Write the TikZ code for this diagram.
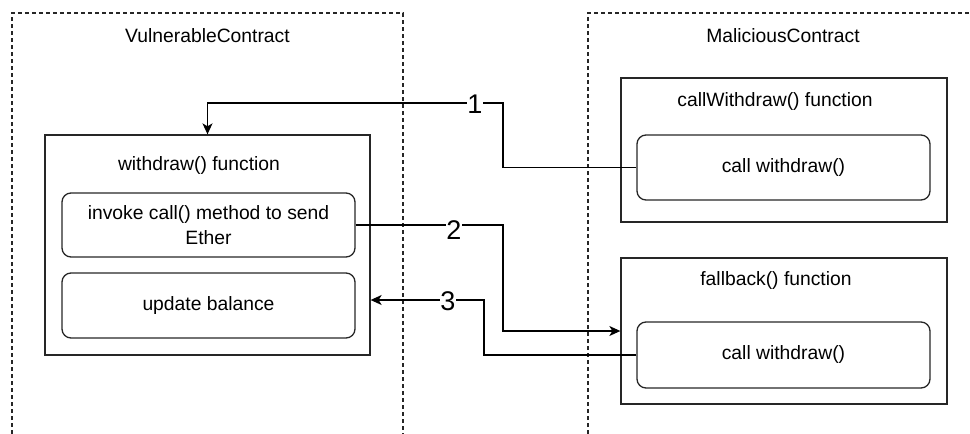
\documentclass[tikz,border=0pt]{standalone}
\usepackage{fontspec}
\setmainfont{Liberation Sans}
\usetikzlibrary{arrows.meta}
\begin{document}
\begin{tikzpicture}[x=1pt,y=-1pt,
  frame/.style={draw=black!85,line width=1.1pt,dash pattern=on 4pt off 3pt},
  funcbox/.style={draw=black!85,line width=1.3pt,minimum width=326pt,inner sep=0pt},
  stepbox/.style={draw=black!85,line width=1.3pt,rounded corners=9pt,minimum width=293pt,inner sep=0pt,align=center,font=\fontsize{19.3}{25}\selectfont},
  title/.style={font=\fontsize{19.3}{23}\selectfont},
  num/.style={fill=white,inner sep=0.5pt,font=\fontsize{27}{30}\selectfont},
  arr/.style={draw=black,line width=1.3pt,-{Stealth[length=11pt,width=10pt,inset=3pt]}},
  link/.style={draw=black,line width=1.3pt}]
\useasboundingbox (0,0) rectangle (970,434);

% contract frames (open at the page edges)
\draw[frame] (12,434) -- (12,13) -- (403,13) -- (403,434);
\draw[frame] (588,434) -- (588,13) -- (970,13);
\node[title] (vc) at (207.5,36) {VulnerableContract};
\node[title] (mc) at (783,36) {MaliciousContract};

% vulnerable contract
\node[funcbox,minimum width=325pt,minimum height=220pt] (wf) at (207.5,245) {};
\node[title] (wft) at (199,166) {withdraw() function};
\node[stepbox,minimum height=64pt] (inv) at (208.5,225) {invoke call() method to send\\Ether};
\node[stepbox,minimum height=65pt] (upd) at (208.5,305.5) {update balance};

% malicious contract
\node[funcbox,minimum height=144pt] (cwf) at (784,150) {};
\node[title] (cwft) at (775,102) {callWithdraw() function};
\node[stepbox,minimum height=65pt] (cw1) at (783.5,167.5) {call withdraw()};
\node[funcbox,minimum height=146pt] (fb) at (784,331) {};
\node[title] (fbt) at (776,281) {fallback() function};
\node[stepbox,minimum height=66pt] (cw2) at (783.5,355) {call withdraw()};

% call sequence
\coordinate (c1) at (503,103);
\coordinate (c2) at (503,331);
\coordinate (c3) at (484,300);
\draw[arr] (cw1.west) -| (c1) -| (wf.north);
\draw[arr] (inv.east) -| (c2) -- (fb.west |- c2);
\draw[arr] (cw2.west) -| (c3) -- (wf.east |- c3);
\node[num] (n1) at (475,104) {1};
\node[num] (n2) at (454,230) {2};
\node[num] (n3) at (448,301) {3};
\end{tikzpicture}
\end{document}
